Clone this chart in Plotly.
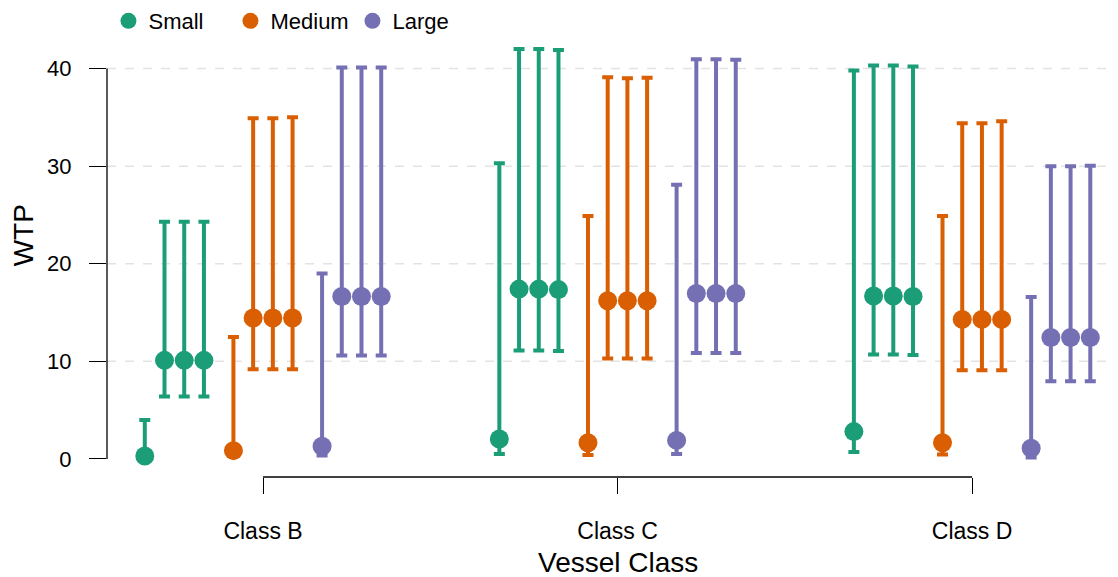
import plotly.graph_objects as go

# ---- data ----
classes = ["Class B", "Class C", "Class D"]
sizes = ["Small", "Medium", "Large"]
models = ["M1", "M2", "M3", "M4"]
y_ticks = [0, 10, 20, 30, 40]

# values ordered class-major (B, C, D), model-minor (M1..M4)
small_est = [0.3, 10.1, 10.1, 10.1, 2.05, 17.4, 17.4, 17.35, 2.8, 16.7, 16.7, 16.65]
small_lo = [0.05, 6.4, 6.4, 6.4, 0.5, 11.1, 11.1, 11.05, 0.7, 10.7, 10.7, 10.65]
small_hi = [4.0, 24.3, 24.3, 24.3, 30.3, 42.0, 42.0, 41.9, 39.8, 40.3, 40.3, 40.2]

medium_est = [0.85, 14.45, 14.45, 14.45, 1.65, 16.2, 16.2, 16.2, 1.65, 14.3, 14.3, 14.3]
medium_lo = [0.3, 9.2, 9.2, 9.2, 0.4, 10.3, 10.3, 10.3, 0.45, 9.1, 9.1, 9.1]
medium_hi = [12.5, 34.9, 34.9, 35.0, 24.9, 39.1, 39.0, 39.05, 24.9, 34.4, 34.4, 34.6]

large_est = [1.3, 16.65, 16.65, 16.65, 1.9, 16.95, 16.95, 16.95, 1.1, 12.45, 12.45, 12.45]
large_lo = [0.35, 10.6, 10.6, 10.6, 0.5, 10.85, 10.85, 10.85, 0.15, 7.95, 7.95, 7.95]
large_hi = [19.0, 40.1, 40.1, 40.1, 28.1, 40.95, 40.95, 40.9, 16.6, 30.0, 30.0, 30.05]

colors = {"Small": "#1B9E77", "Medium": "#D95F02", "Large": "#7570B3"}
series = {
    "Small": (small_est, small_lo, small_hi),
    "Medium": (medium_est, medium_lo, medium_hi),
    "Large": (large_est, large_lo, large_hi),
}

FONT = "Liberation Sans, Arial, sans-serif"
size_dodge = 0.25
model_dodge = 0.0556

fig = go.Figure()
for s_i, s in enumerate(sizes):
    est, lo, hi = series[s]
    xs, text = [], []
    for c_i, c in enumerate(classes):
        for m_i, m in enumerate(models):
            xs.append(c_i + (s_i - 1) * size_dodge + (m_i - 1.5) * model_dodge)
            text.append(f"{c} / {m}")
    fig.add_trace(go.Scatter(
        x=xs, y=est, mode="markers", name=s, text=text,
        marker=dict(color=colors[s], size=19, line=dict(width=0)),
        error_y=dict(type="data", symmetric=False,
                     array=[h - e for h, e in zip(hi, est)],
                     arrayminus=[e - l for e, l in zip(est, lo)],
                     color=colors[s], thickness=4, width=5.5),
    ))

shapes = []
# range-frame y axis line
shapes.append(dict(type="line", xref="paper", yref="y", x0=0, x1=0,
                   y0=min(y_ticks), y1=max(y_ticks), line=dict(color="black", width=1.3)))
# range-frame x axis line
shapes.append(dict(type="line", xref="x", yref="paper", x0=0, x1=len(classes) - 1,
                   y0=0, y1=0, line=dict(color="black", width=1.3)))
# dashed gridlines (no line at 0)
for t in y_ticks[1:]:
    shapes.append(dict(type="line", xref="paper", yref="y", x0=0, x1=1, y0=t, y1=t,
                       line=dict(color="#e3e3e3", width=1.5, dash="dash"), layer="below"))

annotations = [
    dict(text="Vessel Class", xref="x", yref="paper", x=(len(classes) - 1) / 2, y=-0.1915,
         xanchor="center", yanchor="middle", showarrow=False, font=dict(size=28)),
    dict(text="WTP", xref="paper", yref="paper", x=-0.083, y=0.54, textangle=-90,
         xanchor="center", yanchor="middle", showarrow=False, font=dict(size=28)),
]

fig.update_layout(
    width=1110, height=569,
    margin=dict(l=99, r=8, t=22, b=100, autoexpand=False),
    paper_bgcolor="white", plot_bgcolor="white",
    font=dict(family=FONT, size=22, color="black"),
    shapes=shapes,
    annotations=annotations,
    showlegend=True,
    legend=dict(orientation="h", xref="container", yref="paper",
                x=0.0905, y=1.02, xanchor="left", yanchor="middle",
                entrywidth=77, entrywidthmode="pixels",
                font=dict(size=22), itemsizing="trace", tracegroupgap=0),
    xaxis=dict(range=[-0.44, 2.389], tickvals=list(range(len(classes))), ticktext=classes,
               showgrid=False, zeroline=False, showline=False, automargin=False,
               ticks="outside", ticklen=16, tickwidth=1.3, tickcolor="black",
               ticklabelstandoff=17, tickfont=dict(size=23)),
    yaxis=dict(range=[-1.85, 43.95], tickvals=y_ticks,
               showgrid=False, zeroline=False, showline=False, automargin=False,
               ticks="outside", ticklen=17, tickwidth=1.3, tickcolor="black",
               ticklabelstandoff=13, tickfont=dict(size=22)),
)

fig.write_html("out.html")
